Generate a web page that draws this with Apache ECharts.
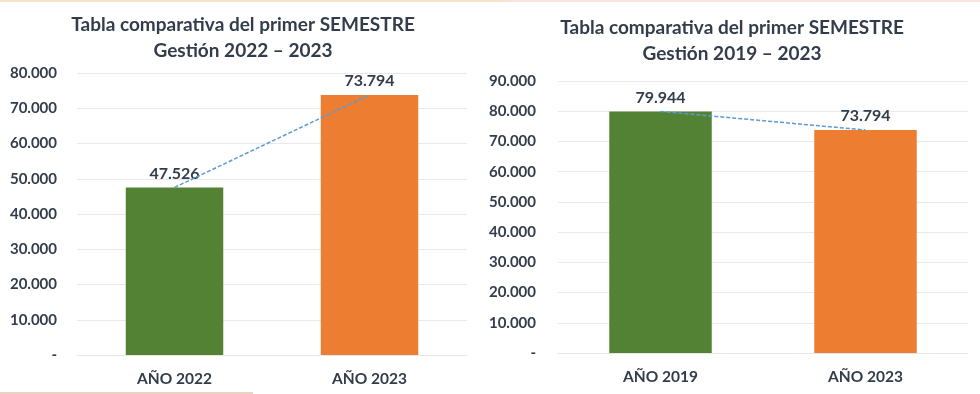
<!DOCTYPE html>
<html>
<head>
<meta charset="utf-8">
<script src="https://cdn.jsdelivr.net/npm/echarts@6/dist/echarts.min.js"></script>
<style>
html,body{margin:0;padding:0;background:#fff;}
#c{width:980px;height:394px;}
</style>
</head>
<body>
<div id="c"></div>
<script>
// ---- data ----
var titleLeft = "Tabla comparativa del primer SEMESTRE\nGestión 2022 – 2023";
var titleRight = "Tabla comparativa del primer SEMESTRE\nGestión 2019 – 2023";
var categoriesLeft = ["AÑO 2022", "AÑO 2023"];
var valuesLeft = [47526, 73794];
var categoriesRight = ["AÑO 2019", "AÑO 2023"];
var valuesRight = [79944, 73794];
var yMaxLeft = 80000;
var yMaxRight = 90000;
var yStep = 10000;
var barColors = ["#548235", "#ed7d31"];

var FONT = "Lato";
var TXT = "#323c4b";

function fmt(v) {
  if (v === 0) return "-";
  var s = String(Math.round(v));
  return s.replace(/\B(?=(\d{3})+(?!\d))/g, ".");
}

function barData(vals) {
  return vals.map(function (v, i) {
    return { value: v, itemStyle: { color: barColors[i] } };
  });
}

var chart = echarts.init(document.getElementById("c"), null, { renderer: "canvas" });

var axisLabelY = { color: TXT, fontFamily: FONT, fontWeight: "bold", fontSize: 15, formatter: fmt };
var axisLabelX = { color: TXT, fontFamily: FONT, fontWeight: "bold", fontSize: 15.5 };

chart.setOption({
  backgroundColor: "#ffffff",
  animation: false,
  textStyle: { fontFamily: FONT },
  title: [
    { text: titleLeft, left: 238, top: 7, textAlign: "center",
      textStyle: { color: TXT, fontFamily: FONT, fontWeight: "bold", fontSize: 19, lineHeight: 26, align: "center" } },
    { text: titleRight, left: 727, top: 10, textAlign: "center",
      textStyle: { color: TXT, fontFamily: FONT, fontWeight: "bold", fontSize: 19, lineHeight: 26, align: "center" } }
  ],
  grid: [
    { left: 77, right: 513, top: 73, bottom: 39 },
    { left: 558, right: 12, top: 81, bottom: 41 }
  ],
  xAxis: [
    { type: "category", gridIndex: 0, data: categoriesLeft,
      axisLine: { show: true, lineStyle: { color: "#e6e6e6" } }, axisTick: { show: false },
      axisLabel: Object.assign({ margin: 16 }, axisLabelX) },
    { type: "category", gridIndex: 1, data: categoriesRight,
      axisLine: { show: true, lineStyle: { color: "#e6e6e6" } }, axisTick: { show: false },
      axisLabel: Object.assign({ margin: 16 }, axisLabelX) }
  ],
  yAxis: [
    { type: "value", gridIndex: 0, min: 0, max: yMaxLeft, interval: yStep,
      axisLine: { show: false }, axisTick: { show: false },
      splitLine: { lineStyle: { color: "#e9e9e9", width: 1 } },
      axisLabel: Object.assign({ margin: 20 }, axisLabelY) },
    { type: "value", gridIndex: 1, min: 0, max: yMaxRight, interval: yStep,
      axisLine: { show: false }, axisTick: { show: false },
      splitLine: { lineStyle: { color: "#e9e9e9", width: 1 } },
      axisLabel: Object.assign({ margin: 22 }, axisLabelY) }
  ],
  series: [
    { type: "bar", xAxisIndex: 0, yAxisIndex: 0, data: barData(valuesLeft), barWidth: "50%",
      label: { show: true, position: "top", distance: 6, formatter: function (p) { return fmt(p.value); },
        color: TXT, fontFamily: FONT, fontWeight: "bold", fontSize: 16 } },
    { type: "line", xAxisIndex: 0, yAxisIndex: 0, data: valuesLeft, symbol: "none", z: 5,
      lineStyle: { color: "#5b9bd5", width: 1.5, type: [4, 2] } },
    { type: "bar", xAxisIndex: 1, yAxisIndex: 1, data: barData(valuesRight), barWidth: "50%",
      label: { show: true, position: "top", distance: 6, formatter: function (p) { return fmt(p.value); },
        color: TXT, fontFamily: FONT, fontWeight: "bold", fontSize: 16 } },
    { type: "line", xAxisIndex: 1, yAxisIndex: 1, data: valuesRight, symbol: "none", z: 5,
      lineStyle: { color: "#5b9bd5", width: 1.5, type: [4, 2] } }
  ],
  graphic: [
    { type: "rect", shape: { x: 0, y: 0, width: 505, height: 2 }, style: { fill: "#f3e3cc" }, silent: true },
    { type: "rect", shape: { x: 505, y: 0, width: 475, height: 2 }, style: { fill: "#f8e4dc" }, silent: true },
    { type: "rect", shape: { x: 0, y: 392, width: 253, height: 2 }, style: { fill: "#ecd2c0" }, silent: true }
  ]
});
</script>
</body>
</html>
